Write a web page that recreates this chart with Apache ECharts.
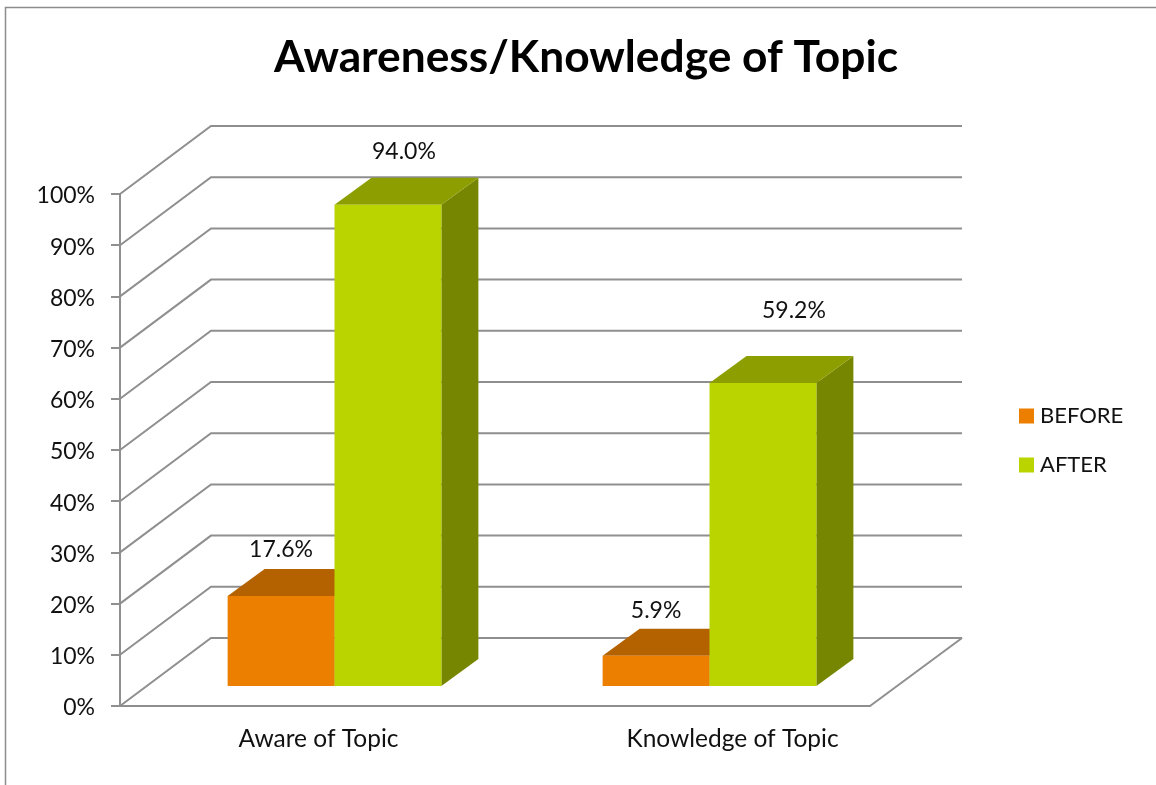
<!DOCTYPE html>
<html lang="en">

<head>
    <meta charset="UTF-8">
    <title>Awareness/Knowledge of Topic</title>
    <script src="https://cdn.jsdelivr.net/npm/echarts@6/dist/echarts.min.js"></script>
    <style>
        html,
        body {
            height: 100%;
            width: 100%;
            margin: 0px;
            background-color: white;
        }

        #chart {
            width: 1156px;
            height: 785px;
        }
    </style>
</head>

<body>
    <div id="chart"></div>
    <script>
        var categories = ['Aware of Topic', 'Knowledge of Topic'];
        var seriesNames = ['BEFORE', 'AFTER'];
        var beforeValues = [17.6, 5.9];
        var afterValues = [94.0, 59.2];
        var valueTicks = [0, 10, 20, 30, 40, 50, 60, 70, 80, 90, 100];

        var fontName = 'Lato';
        var labelSize = 23;
        var catSize = 24.5;
        var legendSize = 22;
        var gridColor = '#8f8f8f';

        // fake 3d: how far the back wall and the bars sit from the front plane, in px
        var wallDx = 91, wallDy = -68;
        var barShiftX = 27, barShiftY = -20;
        var barDepthX = 37, barDepthY = -27;
        var barShare = 0.285;
        // data labels were dragged by hand in the original: [series][category] = [dx, dy]
        var labelNudge = [[[0, -46], [0, -45]], [[16, -53], [31, -72]]];
        var catLabelPad = [22, 100];

        function renderWalls(params, api) {
            var v = api.value(0);
            var p = api.coord([0, v]);
            var rect = params.coordSys;
            var x0 = rect.x, x1 = rect.x + rect.width;
            var children = [{
                type: 'polyline',
                shape: { points: [[x0, p[1]], [x0 + wallDx, p[1] + wallDy], [x1 + wallDx + 1, p[1] + wallDy]] },
                style: { fill: null, stroke: gridColor, lineWidth: 2 }
            }];
            if (v === 0) {
                // floor edge on the right
                children.push({
                    type: 'line',
                    shape: { x1: x1, y1: p[1], x2: x1 + wallDx + 1, y2: p[1] + wallDy },
                    style: { stroke: gridColor, lineWidth: 2 }
                });
            }
            return { type: 'group', children: children };
        }

        function makeBarRender(idx, front, top, side) {
            return function (params, api) {
                var cat = api.value(0);
                var val = api.value(1);
                var base = api.coord([cat, 0]);
                var head = api.coord([cat, val]);
                var w = api.size([1, 0])[0] * barShare;
                var xl = base[0] + barShiftX + (idx - 1) * w;
                var xr = xl + w;
                var yb = base[1] + barShiftY;
                var yt = head[1] + barShiftY;
                var nudge = labelNudge[idx][cat];
                return {
                    type: 'group',
                    children: [{
                        type: 'polygon',
                        shape: { points: [[xr, yb], [xr + barDepthX, yb + barDepthY], [xr + barDepthX, yt + barDepthY], [xr, yt]] },
                        style: { fill: side }
                    }, {
                        type: 'polygon',
                        shape: { points: [[xl, yt], [xl + barDepthX, yt + barDepthY], [xr + barDepthX, yt + barDepthY], [xr, yt]] },
                        style: { fill: top }
                    }, {
                        type: 'rect',
                        shape: { x: xl, y: yt, width: w, height: yb - yt },
                        style: { fill: front }
                    }, {
                        type: 'text',
                        x: (xl + xr) / 2 + nudge[0],
                        y: yt + nudge[1],
                        style: {
                            text: val.toFixed(1) + '%',
                            fill: '#111',
                            font: labelSize + 'px "' + fontName + '"',
                            align: 'center',
                            verticalAlign: 'middle'
                        }
                    }]
                };
            };
        }

        var chart = echarts.init(document.getElementById('chart'));
        chart.setOption({
            animation: false,
            textStyle: { fontFamily: fontName },
            title: {
                text: 'Awareness/Knowledge of Topic',
                left: 581,
                top: 31,
                textAlign: 'center',
                textStyle: { fontSize: 44.3, fontWeight: 'bold', color: '#000', fontFamily: fontName }
            },
            legend: {
                data: seriesNames,
                orient: 'vertical',
                left: 1014,
                top: 400,
                itemWidth: 15,
                itemHeight: 15,
                itemGap: 27,
                icon: 'rect',
                textStyle: { fontSize: legendSize, color: '#111', fontFamily: fontName, padding: [0, 0, 0, 1] }
            },
            grid: { left: 120, right: 286, top: 194, bottom: 79 },
            xAxis: {
                type: 'category',
                data: categories,
                axisLine: { lineStyle: { color: gridColor, width: 2 } },
                axisTick: { show: false },
                axisLabel: {
                    margin: 21,
                    formatter: function (name) {
                        return '{c' + categories.indexOf(name) + '|' + name + '}';
                    },
                    rich: {
                        c0: { fontSize: catSize, color: '#111', fontFamily: fontName, padding: [0, 0, 0, catLabelPad[0]] },
                        c1: { fontSize: catSize, color: '#111', fontFamily: fontName, padding: [0, 0, 0, catLabelPad[1]] }
                    }
                }
            },
            yAxis: {
                type: 'value',
                min: 0,
                max: 100,
                interval: 10,
                axisLine: { show: true, lineStyle: { color: gridColor, width: 2 } },
                axisTick: { show: true, length: 9, lineStyle: { color: gridColor, width: 2 } },
                axisLabel: {
                    margin: 25,
                    formatter: function (v) {
                        return '{v|' + v + '%}';
                    },
                    rich: {
                        v: { fontSize: labelSize, color: '#111', fontFamily: fontName, padding: [4, 0, 0, 0] }
                    }
                },
                splitLine: { show: false }
            },
            graphic: [{
                type: 'rect',
                silent: true,
                shape: { x: 5.5, y: 7.5, width: 1300, height: 900 },
                style: { fill: null, stroke: '#8c8c8c', lineWidth: 1.5 }
            }],
            series: [{
                type: 'custom',
                name: 'walls',
                renderItem: renderWalls,
                data: valueTicks.map(function (t) { return [t]; }),
                encode: { y: 0 },
                silent: true,
                z: 1
            }, {
                type: 'custom',
                name: seriesNames[0],
                itemStyle: { color: '#EC7F00' },
                renderItem: makeBarRender(0, '#EC7F00', '#B46200', '#B46200'),
                data: beforeValues.map(function (v, i) { return [i, v]; }),
                encode: { x: 0, y: 1 },
                z: 2
            }, {
                type: 'custom',
                name: seriesNames[1],
                itemStyle: { color: '#BAD400' },
                renderItem: makeBarRender(1, '#BAD400', '#8D9F00', '#768600'),
                data: afterValues.map(function (v, i) { return [i, v]; }),
                encode: { x: 0, y: 1 },
                z: 3
            }]
        });
    </script>
</body>

</html>
